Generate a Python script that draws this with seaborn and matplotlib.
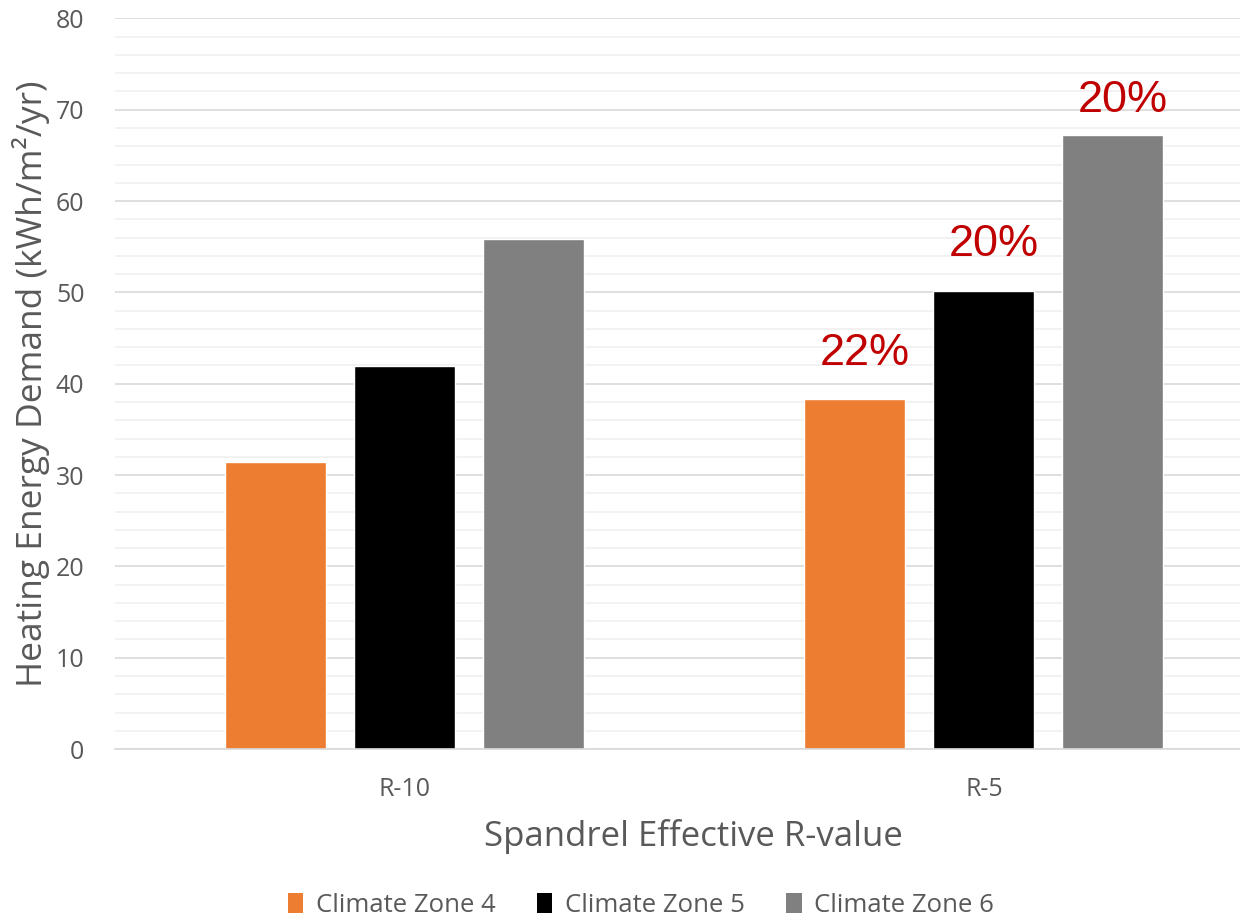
import numpy as np
import pandas as pd
import seaborn as sns
import matplotlib.pyplot as plt
from matplotlib.ticker import MultipleLocator
from matplotlib.patches import Patch

# data
categories = ["R-10", "R-5"]
zones = ["Climate Zone 4", "Climate Zone 5", "Climate Zone 6"]
zone4 = [31.4, 38.3]
zone5 = [41.9, 50.1]
zone6 = [55.8, 67.2]
labels = {"Climate Zone 4": ["", "22%"],
          "Climate Zone 5": ["", "20%"],
          "Climate Zone 6": ["", "20%"]}
colors = ["#ED7D31", "#000000", "#808080"]

df = pd.DataFrame({
    "R": categories * 3,
    "zone": np.repeat(zones, 2),
    "value": zone4 + zone5 + zone6,
})

sns.set_style("white")
plt.rcParams["font.family"] = ["Open Sans", "DejaVu Sans"]
grey = "#595959"

fig = plt.figure(figsize=(12.4, 9.18), dpi=100)
ax = fig.add_axes([0.0927, 0.184, 0.9073, 0.796])

sns.barplot(data=df, x="R", y="value", hue="zone", hue_order=zones,
            palette=colors, width=0.668, gap=0.217, ax=ax, legend=False,
            saturation=1)

ax.set_xlim(-0.5, 1.442)
ax.set_ylim(0, 80)
ax.yaxis.set_major_locator(MultipleLocator(10))
ax.yaxis.set_minor_locator(MultipleLocator(2))
ax.grid(which="minor", axis="y", color="#F0F0F0", lw=1.2)
ax.grid(which="major", axis="y", color="#D9D9D9", lw=1.2)
ax.set_axisbelow(True)
for s in ["top", "right", "left"]:
    ax.spines[s].set_visible(False)
ax.spines["bottom"].set_color("#D9D9D9")
ax.spines["bottom"].set_linewidth(1.2)
ax.tick_params(axis="both", length=0)
ax.tick_params(axis="y", labelsize=18, labelcolor=grey, pad=22)
ax.tick_params(axis="x", labelsize=18, labelcolor=grey, pad=20)

ax.set_ylabel("Heating Energy Demand (kWh/m²/yr)", fontsize=25.5, color=grey, labelpad=4)
ax.set_xlabel("Spandrel Effective R-value", fontsize=25, color=grey, labelpad=12)
ax.xaxis.label.set_x(0.514)

# percentage labels above R-5 bars
pads = [18, 19, 10.5]
for cont, z, p in zip(ax.containers, zones, pads):
    for bar, lab in zip(cont, labels[z]):
        if lab:
            ax.annotate(lab, (bar.get_x() + bar.get_width() / 2, bar.get_height()),
                        xytext=(7, p), textcoords="offset points",
                        ha="center", va="bottom", fontsize=32.5,
                        color="#C00000", family="Liberation Sans")

handles = [Patch(facecolor=c, edgecolor="none") for c in colors]
fig.legend(handles, zones, loc="lower center", ncol=3, frameon=False,
           fontsize=18.5, labelcolor=grey, bbox_to_anchor=(0.517, -0.025),
           handlelength=0.6, handleheight=0.8, handletextpad=0.5,
           columnspacing=1.6)

fig.savefig("out.png", dpi=100)
